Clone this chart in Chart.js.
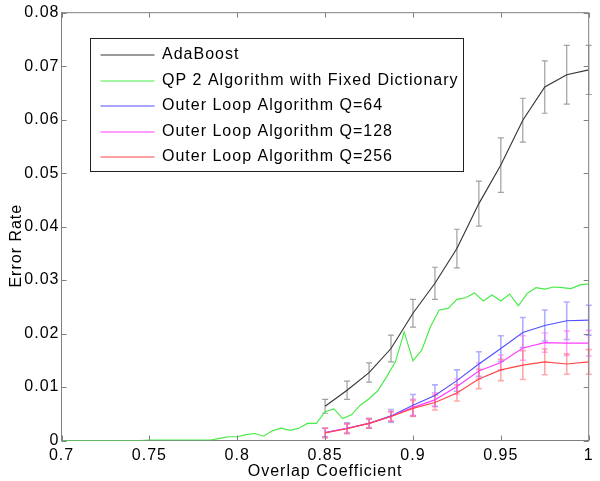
<!DOCTYPE html>
<html>
<head>
<meta charset="utf-8">
<script src="https://cdn.jsdelivr.net/npm/chart.js@4.4.1/dist/chart.umd.min.js"></script>
<style>
  html, body { margin: 0; padding: 0; background: #fff; }
  canvas { display: block; }
</style>
</head>
<body>
<canvas id="errorChart" width="600" height="481"></canvas>
<script>
// overlap coefficients where the error-bar series were measured
const overlap = [0.85, 0.8625, 0.875, 0.8875, 0.9, 0.9125, 0.925, 0.9375, 0.95, 0.9625, 0.975, 0.9875, 1.0];

const adaBoost    = [0.0064, 0.0094, 0.0127, 0.0172, 0.0238, 0.0294, 0.0359, 0.0443, 0.0515, 0.0599, 0.0661, 0.0684, 0.0693];
const adaBoostErr = [0.0013, 0.0017, 0.0018, 0.0025, 0.0026, 0.0030, 0.0036, 0.0042, 0.0051, 0.0041, 0.0049, 0.0055, 0.0046];

const outerQ64     = [0.0015, 0.0023, 0.0032, 0.0046, 0.0066, 0.0084, 0.0112, 0.0143, 0.0172, 0.0202, 0.0215, 0.0224, 0.0225];
const outerQ64Err  = [0.0008, 0.0010, 0.0009, 0.0012, 0.0020, 0.0020, 0.0020, 0.0023, 0.0024, 0.0028, 0.0029, 0.0035, 0.0028];
const outerQ128    = [0.0015, 0.0023, 0.0032, 0.0045, 0.0062, 0.0076, 0.0101, 0.0130, 0.0146, 0.0173, 0.0183, 0.0182, 0.0182];
const outerQ128Err = [0.0008, 0.0008, 0.0008, 0.0009, 0.0015, 0.0013, 0.0014, 0.0015, 0.0014, 0.0023, 0.0018, 0.0023, 0.0024];
const outerQ256    = [0.0014, 0.0022, 0.0032, 0.0045, 0.0060, 0.0071, 0.0089, 0.0115, 0.0132, 0.0141, 0.0147, 0.0143, 0.0147];
const outerQ256Err = [0.0009, 0.0009, 0.0009, 0.0009, 0.0015, 0.0014, 0.0015, 0.0018, 0.0020, 0.0027, 0.0024, 0.0019, 0.0023];

// the fixed dictionary curve is sampled more finely
const qpOverlap = [0.7, 0.705, 0.71, 0.715, 0.72, 0.725, 0.73, 0.735, 0.74, 0.745,
                   0.75, 0.755, 0.76, 0.765, 0.77, 0.775, 0.78, 0.785, 0.79, 0.795,
                   0.8, 0.805, 0.81, 0.815, 0.82, 0.825, 0.83, 0.835, 0.84, 0.845,
                   0.85, 0.855, 0.86, 0.865, 0.87, 0.875, 0.88, 0.885, 0.89, 0.895,
                   0.9, 0.905, 0.91, 0.915, 0.92, 0.925, 0.93, 0.935, 0.94, 0.945,
                   0.95, 0.955, 0.96, 0.965, 0.97, 0.975, 0.98, 0.985, 0.99, 0.995, 1.0];
const qpFixedDict = [0, 0, 0, 0, 0, 0, 0, 0, 0, 0,
                     0.0001, 0.0001, 0.0001, 0.0001, 0.0001, 0.0001, 0.0001, 0.0001, 0.0004, 0.0007,
                     0.0007, 0.0011, 0.0013, 0.0008, 0.0018, 0.0023, 0.0019, 0.0023, 0.0032, 0.0032,
                     0.0054, 0.0059, 0.0041, 0.0048, 0.0066, 0.0078, 0.0093, 0.0119, 0.0147, 0.0203,
                     0.0149, 0.0169, 0.0213, 0.0244, 0.0247, 0.0264, 0.0267, 0.0276, 0.0261, 0.0272,
                     0.0261, 0.0274, 0.0252, 0.0275, 0.0286, 0.0283, 0.0287, 0.0286, 0.0284, 0.0291, 0.0293];

const seriesNames = ["AdaBoost", "QP 2 Algorithm with Fixed Dictionary", "Outer Loop Algorithm Q=64",
                     "Outer Loop Algorithm Q=128", "Outer Loop Algorithm Q=256"];
const lineColors = ["rgb(55,55,55)", "rgb(70,235,70)", "rgb(80,80,255)", "rgb(255,60,255)", "rgb(255,70,70)"];
const barColors  = ["rgb(160,160,160)", null, "rgba(110,110,255,0.55)", "rgba(255,100,255,0.55)", "rgba(255,100,100,0.55)"];

const xTickLabels = ["0.7", "0.75", "0.8", "0.85", "0.9", "0.95", "1"];
const yTickLabels = ["0", "0.01", "0.02", "0.03", "0.04", "0.05", "0.06", "0.07", "0.08"];

const FONT = '"Liberation Sans", Arial, sans-serif';
const AXIS_GRAY = "#808080";

const toPoints = (xs, ys) => xs.map((v, i) => ({x: v, y: ys[i]}));

// matlab-like error bars, drawn under the lines
const errorBars = {
    id: "errorBars",
    beforeDatasetsDraw(chart) {
        const ctx = chart.ctx;
        const xs = chart.scales.x, ys = chart.scales.y;
        chart.data.datasets.forEach(ds => {
            if (!ds.err) return;
            ctx.save();
            ctx.strokeStyle = ds.errColor;
            ctx.lineWidth = ds.errWidth;
            ctx.beginPath();
            ds.data.forEach((p, i) => {
                const px = xs.getPixelForValue(p.x);
                const top = ys.getPixelForValue(p.y + ds.err[i]);
                const bot = ys.getPixelForValue(p.y - ds.err[i]);
                ctx.moveTo(px, top); ctx.lineTo(px, bot);
                ctx.moveTo(px - 3, top); ctx.lineTo(px + 3, top);
                ctx.moveTo(px - 3, bot); ctx.lineTo(px + 3, bot);
            });
            ctx.stroke();
            ctx.restore();
        });
    }
};

// box round the axes with inward ticks, axis titles and the boxed legend
const frame = {
    id: "frame",
    beforeDraw(chart) {
        chart.ctx.letterSpacing = "1px";
    },
    afterDraw(chart) {
        const ctx = chart.ctx;
        const a = chart.chartArea;
        const xs = chart.scales.x, ys = chart.scales.y;

        ctx.save();
        ctx.strokeStyle = AXIS_GRAY;
        ctx.lineWidth = 1;
        ctx.beginPath();
        ctx.moveTo(a.left, a.top); ctx.lineTo(a.right, a.top); ctx.lineTo(a.right, a.bottom);
        xs.ticks.forEach(t => {
            const px = Math.round(xs.getPixelForValue(t.value)) + 0.5;
            ctx.moveTo(px, a.bottom); ctx.lineTo(px, a.bottom - 5);
            ctx.moveTo(px, a.top); ctx.lineTo(px, a.top + 5);
        });
        ys.ticks.forEach(t => {
            const py = Math.round(ys.getPixelForValue(t.value)) + 0.5;
            ctx.moveTo(a.left, py); ctx.lineTo(a.left + 5, py);
            ctx.moveTo(a.right, py); ctx.lineTo(a.right - 5, py);
        });
        ctx.stroke();

        // axis titles
        ctx.fillStyle = "#000";
        ctx.font = "16px " + FONT;
        ctx.textAlign = "center";
        ctx.textBaseline = "middle";
        ctx.fillText("Overlap Coefficient", (a.left + a.right) / 2, a.bottom + 31);
        ctx.save();
        ctx.translate(17, a.top + 233);
        ctx.rotate(-Math.PI / 2);
        ctx.fillText("Error Rate", 0, 0);
        ctx.restore();

        // legend
        const lx = a.left + 28, ly = a.top + 25.5;
        ctx.fillStyle = "#fff";
        ctx.fillRect(lx, ly, 373, 133);
        ctx.strokeStyle = "#222";
        ctx.strokeRect(Math.round(lx) + 0.5, Math.round(ly) + 0.5, 373, 133);
        ctx.textAlign = "left";
        seriesNames.forEach((name, i) => {
            const ry = Math.round(ly + 17 + i * 25.5);
            ctx.beginPath();
            ctx.lineWidth = 1.2;
            ctx.strokeStyle = lineColors[i];
            ctx.moveTo(lx + 11, ry); ctx.lineTo(lx + 65, ry);
            ctx.stroke();
            ctx.fillStyle = "#000";
            ctx.fillText(name, lx + 72.5, ry);
        });
        ctx.restore();
    }
};

new Chart(document.getElementById("errorChart"), {
    type: "line",
    data: {
        datasets: [
            {
                label: seriesNames[0],
                data: toPoints(overlap, adaBoost),
                err: adaBoostErr, errColor: barColors[0], errWidth: 1.2,
                borderColor: lineColors[0], order: 4
            },
            {
                label: seriesNames[1],
                data: toPoints(qpOverlap, qpFixedDict),
                borderColor: lineColors[1], order: 3
            },
            {
                label: seriesNames[2],
                data: toPoints(overlap, outerQ64),
                err: outerQ64Err, errColor: barColors[2], errWidth: 1.6,
                borderColor: lineColors[2], order: 2
            },
            {
                label: seriesNames[3],
                data: toPoints(overlap, outerQ128),
                err: outerQ128Err, errColor: barColors[3], errWidth: 1.6,
                borderColor: lineColors[3], order: 1
            },
            {
                label: seriesNames[4],
                data: toPoints(overlap, outerQ256),
                err: outerQ256Err, errColor: barColors[4], errWidth: 1.6,
                borderColor: lineColors[4], order: 0
            }
        ]
    },
    options: {
        responsive: false,
        animation: false,
        layout: {padding: {top: 12.7, right: 11.3, left: 0, bottom: 0}},
        elements: {
            point: {radius: 0},
            line: {borderWidth: 1.15, tension: 0}
        },
        plugins: {
            legend: {display: false},
            tooltip: {enabled: false}
        },
        scales: {
            x: {
                type: "linear",
                min: 0.7, max: 1.0,
                afterFit: s => { s.height = 40.5; },
                grid: {display: false, drawTicks: false},
                border: {display: true, color: AXIS_GRAY},
                ticks: {
                    stepSize: 0.05, maxRotation: 0, padding: 5,
                    color: "#000", font: {family: FONT, size: 16},
                    callback: (v, i) => xTickLabels[i]
                }
            },
            y: {
                min: 0, max: 0.08,
                afterFit: s => { s.width = 61.5; },
                grid: {display: false, drawTicks: false},
                border: {display: true, color: AXIS_GRAY},
                ticks: {
                    stepSize: 0.01, padding: 2,
                    color: "#000", font: {family: FONT, size: 16},
                    callback: (v, i) => yTickLabels[i]
                }
            }
        }
    },
    plugins: [errorBars, frame]
});
</script>
</body>
</html>
